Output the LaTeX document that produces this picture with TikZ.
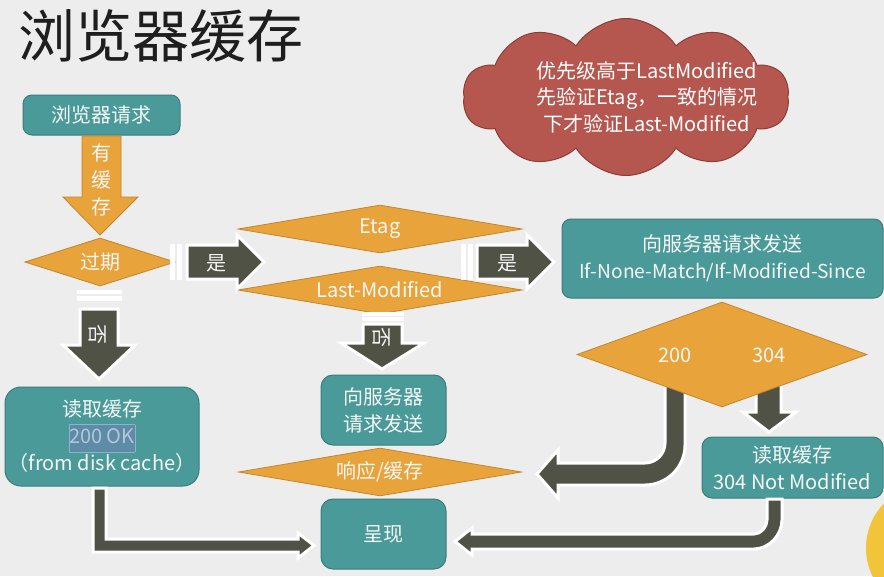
\documentclass[tikz,border=0pt]{standalone}
\usepackage{fontspec}
\setmainfont{Noto Sans CJK SC}
\usetikzlibrary{shapes.geometric,shapes.symbols}
\definecolor{bg}{HTML}{EDEDED}
\definecolor{tealbox}{HTML}{4A9A9A}
\definecolor{tealdark}{HTML}{3B7C7D}
\definecolor{boxtext}{HTML}{F7F7F7}
\definecolor{orng}{HTML}{E9A33B}
\definecolor{orngdark}{HTML}{C4862C}
\definecolor{darkarr}{HTML}{4F5245}
\definecolor{cloudred}{HTML}{B5574F}
\definecolor{clouddark}{HTML}{8C3D37}
\definecolor{sun}{HTML}{F2C43A}
\definecolor{titlec}{HTML}{1E1E1E}
\definecolor{hlfill}{HTML}{5E8CA6}
\definecolor{hlborder}{HTML}{8FB2C8}
\definecolor{hltext}{HTML}{B4C6DE}
\tikzset{
  box/.style={draw=tealdark, line width=1pt, fill=tealbox, rounded corners=9pt,
    text=boxtext, align=center, inner sep=0pt, font=\fontsize{20}{27}\selectfont},
  dia/.style={diamond, draw=orngdark, line width=0.8pt, fill=orng, text=boxtext,
    inner sep=0pt, aspect=6, font=\fontsize{20}{24}\selectfont},
  darr/.style={fill=darkarr, draw=white, line width=3pt, line join=miter, miter limit=10},
  stripe/.style={fill=darkarr, draw=white, line width=2.5pt},
  lbl/.style={text=boxtext, inner sep=0pt, font=\fontsize{20}{27}\selectfont, align=center},
}
\begin{document}
\begin{tikzpicture}[x=1pt,y=-1pt]
\fill[bg] (0,0) rectangle (884,576);
\useasboundingbox (0,0) rectangle (884,576);
\begin{scope}
\clip (0,0) rectangle (884,576);
\fill[sun] (930,548) circle (64);
\end{scope}

% title
\node[text=titlec, inner sep=0pt, font=\fontsize{57}{60}\selectfont] (title) at (161,36) {浏览器缓存};

% cloud
\node[cloud, cloud puffs=10, cloud puff arc=115, aspect=2.2, minimum width=326pt,
  minimum height=157pt, fill=cloudred, draw=clouddark, line width=1pt] (cloud) at (626,97) {};
\node[text=white, inner sep=0pt, align=center, font=\fontsize{20}{26.5}\selectfont] (cloudtxt) at (647,97)
  {优先级高于LastModified\\先验证Etag，一致的情况\\下才验证Last-Modified};

% browser request
\node[box, minimum width=157pt, minimum height=40pt] (req) at (101.5,115) {浏览器请求};

% orange arrow
\filldraw[fill=orng, draw=orngdark, line width=0.8pt] (82,136) -- (121,136) -- (121,197) -- (138,197) -- (100,235) -- (63,197) -- (82,197) -- cycle;
\node[lbl] (hascache) at (101,180) {有\\缓\\存};

% expired diamond
\node[dia, minimum width=124pt, minimum height=48pt] (exp) at (100,262) {过期};

% etag / last-modified diamonds
\node[dia, minimum width=284pt, minimum height=48pt] (etag) at (380,229) {Etag};
\node[dia, minimum width=284pt, minimum height=48pt] (lm) at (380,290) {Last-Modified};

% yes arrow 1
\draw[stripe] (171.5,245) rectangle (173.5,279);
\draw[stripe] (178.5,245) rectangle (181,279);
\draw[darr] (187,245) -- (237,245) -- (237,235) -- (264,262) -- (237,289) -- (237,279) -- (187,279) -- cycle;
\node[lbl] (yes1) at (216,263) {是};

% yes arrow 2
\draw[stripe] (462.5,245) rectangle (465,279);
\draw[stripe] (469.5,245) rectangle (472,279);
\draw[darr] (477,245) -- (527,245) -- (527,235) -- (554,262) -- (527,289) -- (527,279) -- (477,279) -- cycle;
\node[lbl] (yes2) at (507,263) {是};

% send request box
\node[box, minimum width=321pt, minimum height=79pt] (send) at (722.5,258.5)
  {向服务器请求发送\\{\fontsize{19.2}{27}\selectfont If-None-Match/If-Modified-Since}};

% no arrow left
\draw[stripe] (78,291) rectangle (121,293);
\draw[stripe] (78,297.5) rectangle (121,299.5);
\draw[darr] (80,309) -- (118,309) -- (118,345) -- (135,345) -- (99,379) -- (63,345) -- (80,345) -- cycle;
\node[lbl, rotate=-90] (no1) at (98,334) {否};

% no arrow middle
\draw[stripe] (363,313.5) rectangle (403,315);
\draw[stripe] (363,318.5) rectangle (403,320);
\draw[darr] (363,324) -- (402,324) -- (402,343) -- (424,343) -- (382,369) -- (341,343) -- (363,343) -- cycle;
\node[lbl, rotate=-90] (no2) at (382,337) {否};

% read cache (200)
\node[box, rounded corners=16pt, minimum width=194pt, minimum height=99pt] (cache) at (102,436.5)
  {读取缓存\\{\setlength\fboxsep{0pt}\setlength\fboxrule{0.6pt}\fcolorbox{hlborder}{hlfill}{\color{hltext}\strut 200 OK}}\\（from disk cache）};

% request to server (middle)
\node[box, rounded corners=12pt, minimum width=125pt, minimum height=70pt] (req2) at (383.5,410) {向服务器\\请求发送};

% response/cache diamond
\node[dia, minimum width=283pt, minimum height=48pt] (resp) at (380,472) {响应/缓存};

% render box
\node[box, rounded corners=12pt, minimum width=125pt, minimum height=70pt] (show) at (383.5,534) {呈现};

% arrow from cache (200) to render
\draw[darr] (93,488) -- (106,488) -- (106,539) -- (298,539) -- (298,533) -- (314,545.5) -- (298,558) -- (298,552) -- (93,552) -- cycle;

% arrows leaving status diamond (drawn beneath it)
\draw[darr] (665,380) -- (665,443) .. controls (665,454) and (656,463) .. (645,463)
  -- (558,463) -- (558,450) -- (537,474) -- (558,498) -- (558,485) -- (645,485)
  .. controls (667,485) and (685,467) .. (685,445) -- (685,380) -- cycle;
\draw[darr] (756,378) -- (781,378) -- (781,412) -- (796,412) -- (769,432) -- (743,412) -- (756,412) -- cycle;

% status diamond
\node[dia, minimum width=290pt, minimum height=105pt] (cond) at (722,354.5) {};
\node[lbl] (c200) at (675,355) {200};
\node[lbl] (c304) at (769,355) {304};

% not modified box
\node[box, rounded corners=10pt, minimum width=181pt, minimum height=61pt] (nm) at (792.5,467.5)
  {读取缓存\\304 Not Modified};

% arrow from not modified to render
\draw[darr] (767,499) -- (767,520) .. controls (767,527) and (761,534) .. (754,534)
  -- (472,534) -- (472,528) -- (455,541.5) -- (472,555) -- (472,549) -- (754,549)
  .. controls (769,549) and (782,535) .. (782,520) -- (782,499) -- cycle;
\end{tikzpicture}
\end{document}
